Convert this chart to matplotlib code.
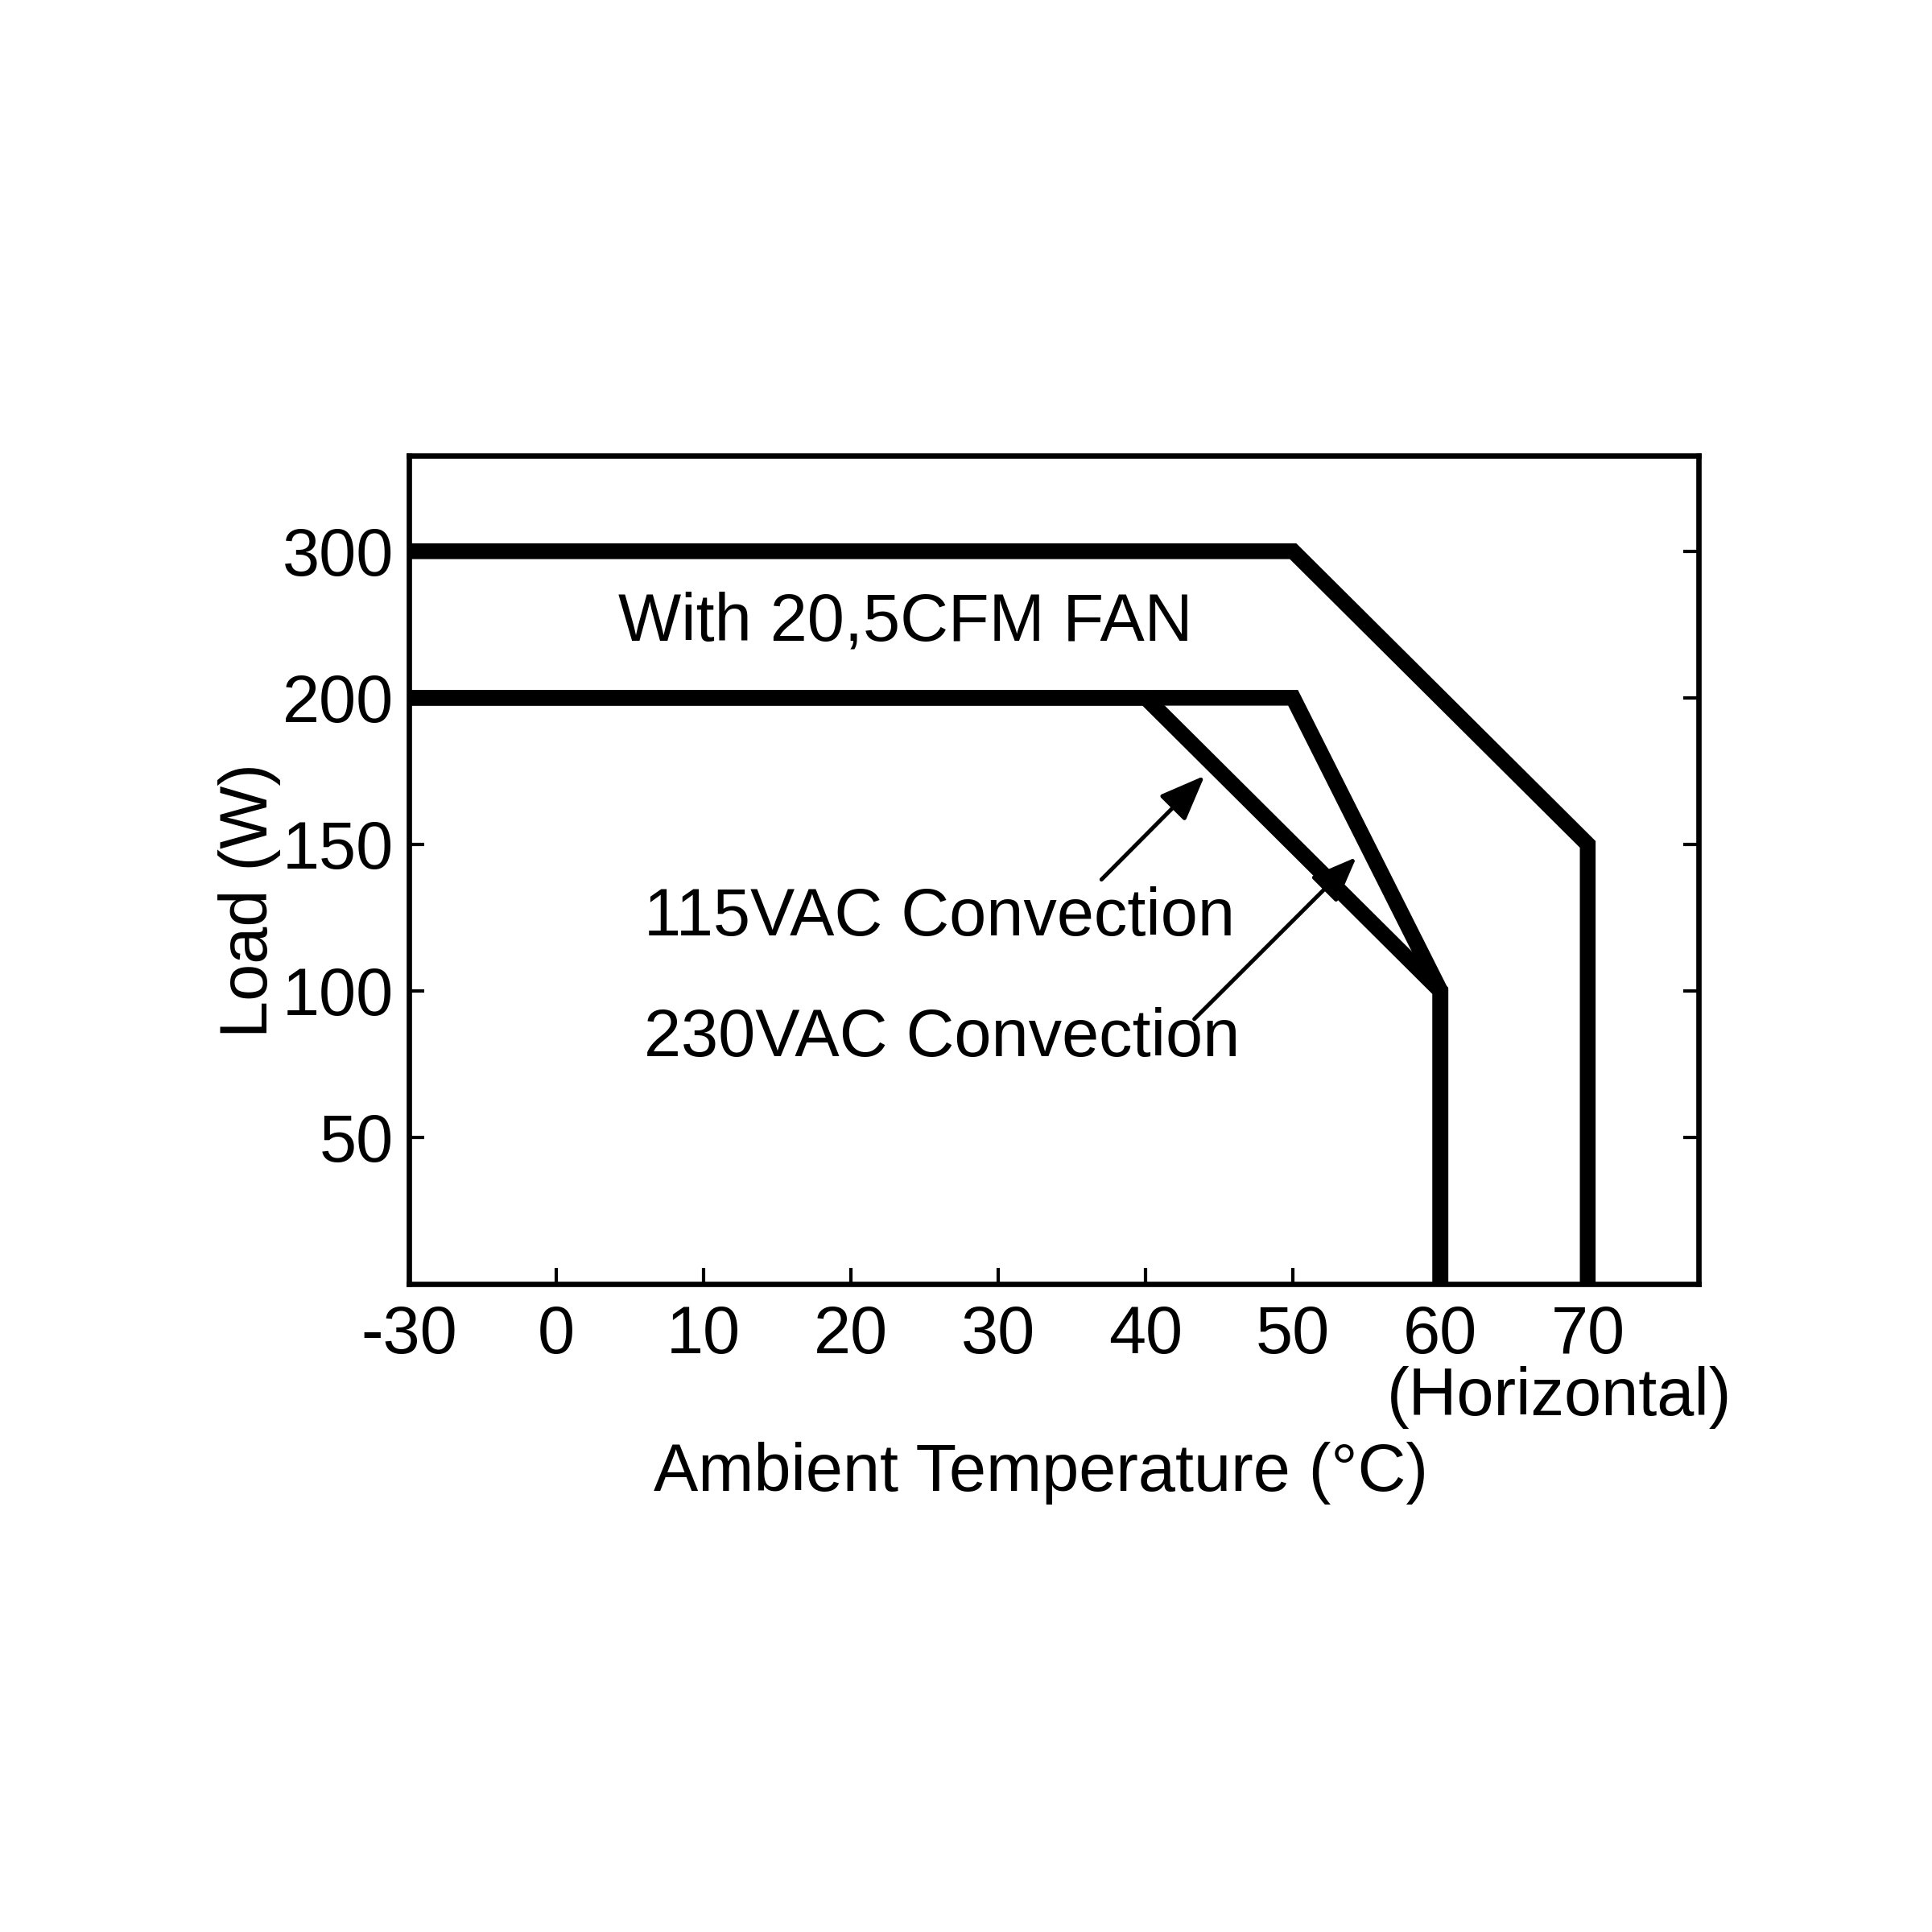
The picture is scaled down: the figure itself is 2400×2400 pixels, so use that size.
import numpy as np
import matplotlib
matplotlib.use("Agg")
import matplotlib.pyplot as plt

plt.rcParams['font.family'] = ['Liberation Sans', 'DejaVu Sans']

# ---- data ----
x_ticks = [-30, 0, 10, 20, 30, 40, 50, 60, 70]
y_ticks = [50, 100, 150, 200, 300]

fan_temp = [-30, 50, 70, 70]
fan_load = [300, 300, 150, 0]

ac230_temp = [-30, 50, 60, 60]
ac230_load = [200, 200, 100, 0]

ac115_temp = [-30, 40, 60, 60]
ac115_load = [200, 200, 100, 0]

# arrow (tail, head) in data units
arrow115 = ((37.0, 138.0), (44.0, 173.4))
arrow230 = ((43.3, 90.4), (54.3, 145.6))

# ---- non-linear (equally spaced) axis scales ----
x_knots = np.array([-40] + x_ticks + [80], dtype=float)
x_pos = np.arange(len(x_knots), dtype=float) - 2
y_knots = np.array([0] + y_ticks + [400], dtype=float)
y_pos = np.arange(len(y_knots), dtype=float)

def fx(v):
    return np.interp(v, x_knots, x_pos)

def ix(p):
    return np.interp(p, x_pos, x_knots)

def fy(v):
    return np.interp(v, y_knots, y_pos)

def iy(p):
    return np.interp(p, y_pos, y_knots)

FS = 19.9

fig = plt.figure(figsize=(8, 8), dpi=300)
ax = fig.add_axes([0.2117, 0.3354, 0.879 - 0.2117, 0.764 - 0.3354])
ax.set_xscale('function', functions=(fx, ix))
ax.set_yscale('function', functions=(fy, iy))

lw = 4.7
for xs, ys in [(fan_temp, fan_load), (ac230_temp, ac230_load), (ac115_temp, ac115_load)]:
    ax.plot(xs, ys, color='black', lw=lw, solid_joinstyle='miter',
            solid_capstyle='butt', clip_on=True)

ax.set_xlim(-30, 77.5)
ax.set_ylim(0, 365)

ax.set_xticks(x_ticks)
ax.set_xticklabels([str(v) for v in x_ticks])
ax.set_yticks(y_ticks)
ax.set_yticklabels([str(v) for v in y_ticks])
ax.minorticks_off()

ax.tick_params(axis='x', direction='in', length=4.8, width=1.0, pad=6.0,
               labelsize=FS, top=False)
ax.tick_params(axis='y', direction='in', length=4.6, width=1.0, pad=4.5,
               labelsize=FS, left=True, right=True)
for s in ax.spines.values():
    s.set_linewidth(1.6)

ax.set_xlabel('Ambient Temperature (°C)', fontsize=FS)
ax.xaxis.set_label_coords(0.490, -0.228)
ax.xaxis.label.set_va('center')
ax.set_ylabel('Load (W)', fontsize=FS)
ax.yaxis.set_label_coords(-0.1237, 0.4636)
ax.yaxis.label.set_va('center')
ax.yaxis.label.set_ha('center')

ax.text(0.385, 0.799, 'With 20,5CFM FAN', transform=ax.transAxes,
        ha='center', va='center', fontsize=FS)
ax.text(0.1824, 0.442, '115VAC Convection', transform=ax.transAxes,
        ha='left', va='center', fontsize=FS)
ax.text(0.1824, 0.2964, '230VAC Convection', transform=ax.transAxes,
        ha='left', va='center', fontsize=FS)
ax.text(0.892, -0.137, '(Horizontal)', transform=ax.transAxes,
        ha='center', va='center', fontsize=FS)

for tail, head in (arrow115, arrow230):
    ax.annotate('', xy=head, xytext=tail,
                arrowprops=dict(arrowstyle='-|>,head_length=0.4,head_width=0.16',
                                mutation_scale=29, lw=1.2, color='black',
                                shrinkA=0, shrinkB=0))

fig.savefig('out.png', dpi=300, facecolor='white')
